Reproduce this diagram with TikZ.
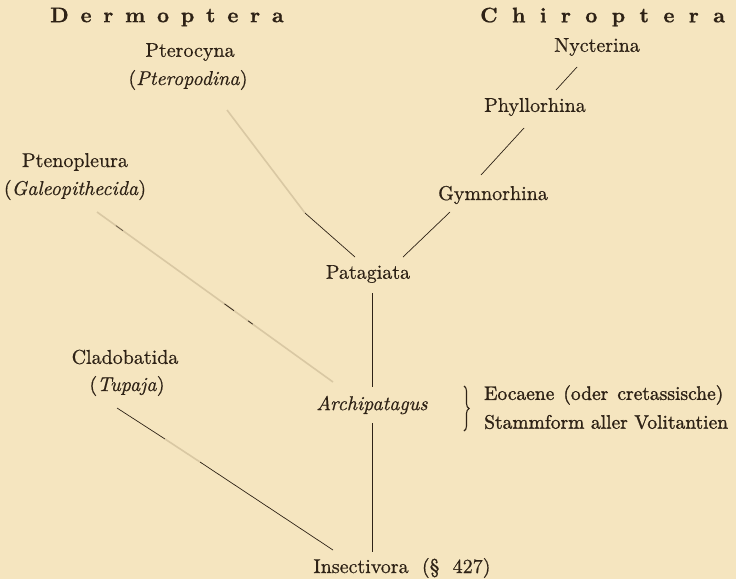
\documentclass[tikz,border=0pt]{standalone}
\usepackage{fontspec}
\setmainfont{lmroman10-regular.otf}[
  ItalicFont=lmroman10-italic.otf,
  BoldFont=lmroman10-bold.otf,
  FakeBold=0.6]
\newfontfamily\headfont{lmroman10-bold.otf}[FakeBold=0.8]
\newfontfamily\sidefont{lmroman10-regular.otf}[FakeBold=1.3]
\usetikzlibrary{calc,decorations.pathreplacing}
\definecolor{paper}{HTML}{F5E5BF}
\definecolor{ink}{HTML}{2E2216}
\definecolor{faint}{HTML}{D9C8A3}
\newcommand{\gapD}{\hspace{11.8pt}}
\newcommand{\gapC}{\hspace{14.4pt}}
\newcommand{\wgap}{\hspace{9pt}}
\tikzset{
  lbl/.style={text=ink, inner sep=1pt, font=\fontsize{20}{22}\selectfont},
  side/.style={text=ink, inner sep=1pt, anchor=west, font=\fontsize{19.5}{22}\selectfont\sidefont},
  head/.style={text=ink, inner sep=0pt, anchor=west, font=\fontsize{21}{23}\selectfont\headfont},
  branch/.style={draw=ink, line width=0.7pt},
  trunk/.style={draw=ink, line width=0.9pt},
  ghost/.style={draw=faint, line width=1.6pt},
  bracestyle/.style={draw=ink, line width=1.1pt, decorate, decoration={brace, amplitude=5pt}},
}
\begin{document}
\begin{tikzpicture}[x=1pt,y=-1pt]
\fill[paper] (0,0) rectangle (736,579);
\useasboundingbox (0,0) rectangle (736,579);
% headings
\node[head] (derm) at (50,17) {D\gapD e\gapD r\gapD m\gapD o\gapD p\gapD t\gapD e\gapD r\gapD a};
\node[head] (chiro) at (480,17) {C\gapC h\gapC i\gapC r\gapC o\gapC p\gapC t\gapC e\gapC r\gapC a};
% labels
\node[lbl] (nyct) at (597,47) {Nycterina};
\node[lbl] (phyl) at (535,107) {Phyllorhina};
\node[lbl] (gymn) at (493,195) {Gymnorhina};
\node[lbl] (pteroc) at (190,52) {Pterocyna};
\node[lbl] (pteropod) at (188,80) {(\textit{Pteropodina})};
\node[lbl] (pteno) at (75,162) {Ptenopleura};
\node[lbl] (galeo) at (75,190) {(\textit{Galeopithecida})};
\node[lbl] (patag) at (368,274) {Patagiata};
\node[lbl] (archi) at (372,405) {\textit{Archipatagus}};
\node[lbl] (clado) at (125,357) {Cladobatida};
\node[lbl] (tupaja) at (127,386) {(\textit{Tupaja})};
\node[lbl] (insect) at (402,568) {Insectivora\ \ (\S\ \ 427)};
\coordinate (bt) at (464,386);
\coordinate (bb) at (464,431);
\draw[bracestyle] (bt) -- (bb);
\node[side] (eoc) at (483,395) {Eocaene\wgap(oder\wgap cretassische)};
\node[side] (stamm) at (483,422) {Stammform aller Volitantien};
% connector end points
\coordinate (n1) at (577,67);  \coordinate (n2) at (556,90);
\coordinate (p1) at (524,128); \coordinate (p2) at (481,175);
\coordinate (g1) at (450,212); \coordinate (g2) at (403,257);
\coordinate (t1) at (227,110); \coordinate (tm) at (305,213); \coordinate (t2) at (355,257);
\coordinate (l1) at (97,212);  \coordinate (l2) at (333,382);
\coordinate (a1) at (372,293); \coordinate (a2) at (372,387);
\coordinate (b1) at (372,423); \coordinate (b2) at (372,552);
\coordinate (c1) at (117,408); \coordinate (cm1) at (165,439); \coordinate (cm2) at (200,462); \coordinate (c2) at (333,550);
% Chiroptera branch
\draw[branch] (n1) -- (n2);
\draw[branch] (p1) -- (p2);
\draw[branch] (g1) -- (g2);
% Pterocyna branch (upper part faded)
\draw[ghost] (t1) -- (tm);
\draw[branch] (tm) -- (t2);
% Ptenopleura branch (faded, with remnants)
\draw[ghost] (l1) -- (l2);
\draw[branch, draw opacity=0.7] ($(l1)!0.08!(l2)$) -- ($(l1)!0.11!(l2)$);
\draw[branch] ($(l1)!0.54!(l2)$) -- ($(l1)!0.58!(l2)$);
\draw[branch] ($(l1)!0.64!(l2)$) -- ($(l1)!0.66!(l2)$);
% trunk
\draw[trunk] (a1) -- (a2);
\draw[trunk] (b1) -- (b2);
% Cladobatida branch
\draw[branch] (c1) -- (cm1);
\draw[ghost] (cm1) -- (cm2);
\draw[branch] (cm2) -- (c2);
\end{tikzpicture}
\end{document}
